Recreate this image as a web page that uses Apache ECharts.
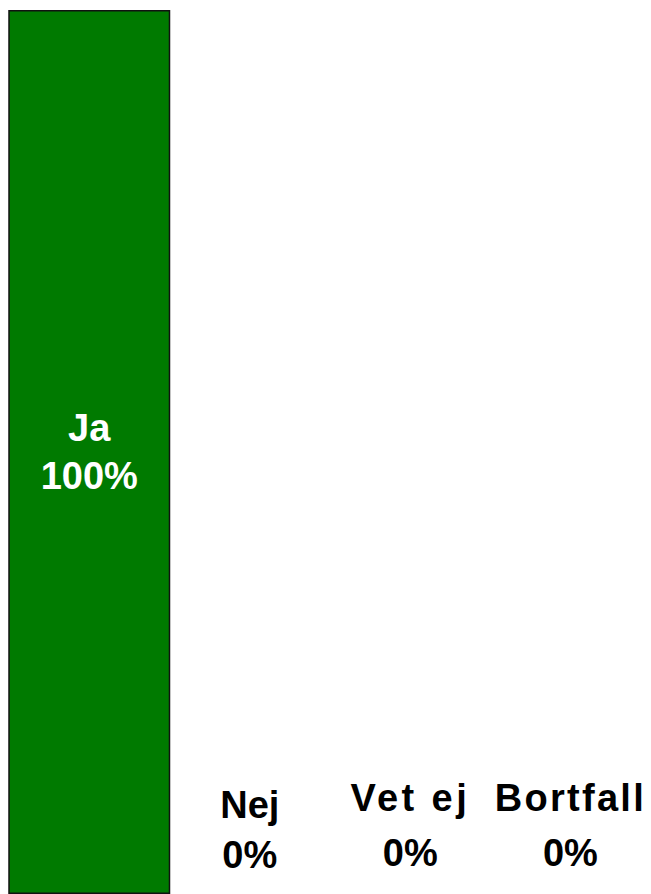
<!DOCTYPE html>
<html>
<head>
<meta charset="utf-8">
<script src="https://cdn.jsdelivr.net/npm/echarts@6/dist/echarts.min.js"></script>
<style>html,body{margin:0;padding:0;background:#fff}#c{width:651px;height:894px}</style>
</head>
<body>
<div id="c"></div>
<script>
var categories = ['Ja', 'Nej', 'Vet ej', 'Bortfall'];
var values = [100, 0, 0, 0];

var chart = echarts.init(document.getElementById('c'), null, { renderer: 'svg' });
var lineHeights = [48, 50, 55, 55];
var data = values.map(function (v, i) {
  var d = { value: v };
  if (v === 0) {
    d.itemStyle = { borderWidth: 0 };
    d.label = { position: 'top', color: '#000', distance: 14, lineHeight: lineHeights[i] };
  }
  return d;
});
chart.setOption({
  animation: false,
  grid: { left: 9, top: 10, width: 644, height: 892 },
  xAxis: { type: 'category', data: categories, show: false },
  yAxis: { type: 'value', min: 0, max: 100, show: false },
  series: [{
    type: 'bar',
    data: data,
    barCategoryGap: '0%',
    barWidth: 162,
    itemStyle: { color: '#007a00', borderColor: '#111', borderWidth: 1.5 },
    label: {
      show: true,
      position: 'inside',
      formatter: function (p) { return p.name + '\n' + p.value + '%'; },
      fontFamily: 'Liberation Sans, Arial, sans-serif',
      fontWeight: 'bold',
      fontSize: 38,
      lineHeight: 48,
      color: '#fff'
    }
  }]
});
var spacing = { 'Vet ej': '3.4px', 'Bortfall': '2.3px' };
Array.prototype.forEach.call(document.querySelectorAll('#c text'), function (t) {
  var s = spacing[t.textContent];
  if (s) { t.style.letterSpacing = s; }
});
</script>
</body>
</html>
